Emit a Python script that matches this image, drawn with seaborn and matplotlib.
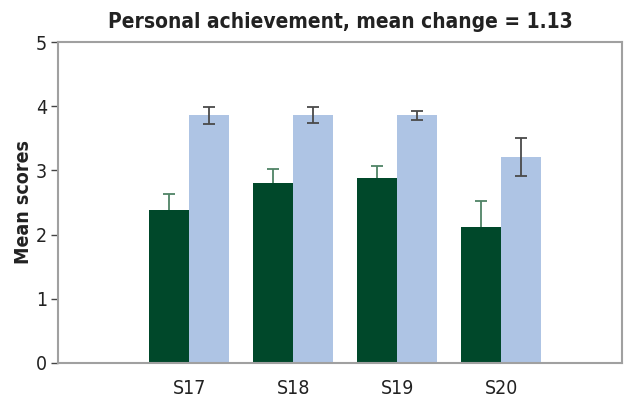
import pandas as pd
import numpy as np
import matplotlib
matplotlib.use("Agg")
import matplotlib.pyplot as plt
import seaborn as sns

sessions = ["S17", "S18", "S19", "S20"]
groups = ["Before", "After"]
before_means = [2.38, 2.80, 2.88, 2.12]
before_err = [0.26, 0.22, 0.19, 0.40]
after_means = [3.86, 3.86, 3.86, 3.21]
after_err = [0.13, 0.12, 0.07, 0.29]

green = "#00482a"
blue = "#aec4e4"
spine_grey = "#a0a0a0"

sns.set_style("white")
plt.rcParams["font.family"] = ["DejaVu Sans"]
plt.rcParams["font.stretch"] = "condensed"

df = pd.DataFrame({
    "Session": sessions * 2,
    "Group": [groups[0]] * 4 + [groups[1]] * 4,
    "Mean": before_means + after_means,
})

fig = plt.figure(figsize=(6.27, 4.0), dpi=100)
ax = fig.add_axes([0.0925, 0.0925, 0.8995, 0.8025])

sns.barplot(data=df, x="Session", y="Mean", hue="Group", palette=[green, blue],
            width=0.77, saturation=1, errorbar=None, legend=False,
            linewidth=0, ax=ax)

# error bars: green only upward, blue both ways
for cont, means, errs, col, lower in [
        (ax.containers[0], before_means, before_err, "#4f8366", False),
        (ax.containers[1], after_means, after_err, "#4a4a4a", True)]:
    xs = [p.get_x() + p.get_width() / 2 for p in cont.patches]
    yerr = [errs if lower else [0] * len(errs), errs]
    eb = ax.errorbar(xs, means, yerr=yerr, fmt="none", ecolor=col,
                     elinewidth=1.3, capsize=4, capthick=1.3)
    if not lower:
        eb.lines[1][0].set_visible(False)
        eb.lines[1][1].set_color(green)

ax.set_xlim(-1.26, 4.16)
ax.set_ylim(0, 5)
ax.set_yticks([0, 1, 2, 3, 4, 5])
ax.set_xlabel("")
ax.set_ylabel("Mean scores", fontsize=14, fontweight="bold", color="#222222", labelpad=2)
ax.set_title("Personal achievement, mean change = 1.13", fontsize=15,
             fontweight="bold", color="#222222", pad=10)

for s in ax.spines.values():
    s.set_color(spine_grey)
    s.set_linewidth(1.5)
ax.tick_params(axis="y", left=True, length=5, width=1, color="#444444",
               labelsize=14, labelcolor="#222222", pad=3)
ax.tick_params(axis="x", bottom=False, labelsize=14, labelcolor="#222222", pad=8)

fig.savefig("out.png", dpi=100)
